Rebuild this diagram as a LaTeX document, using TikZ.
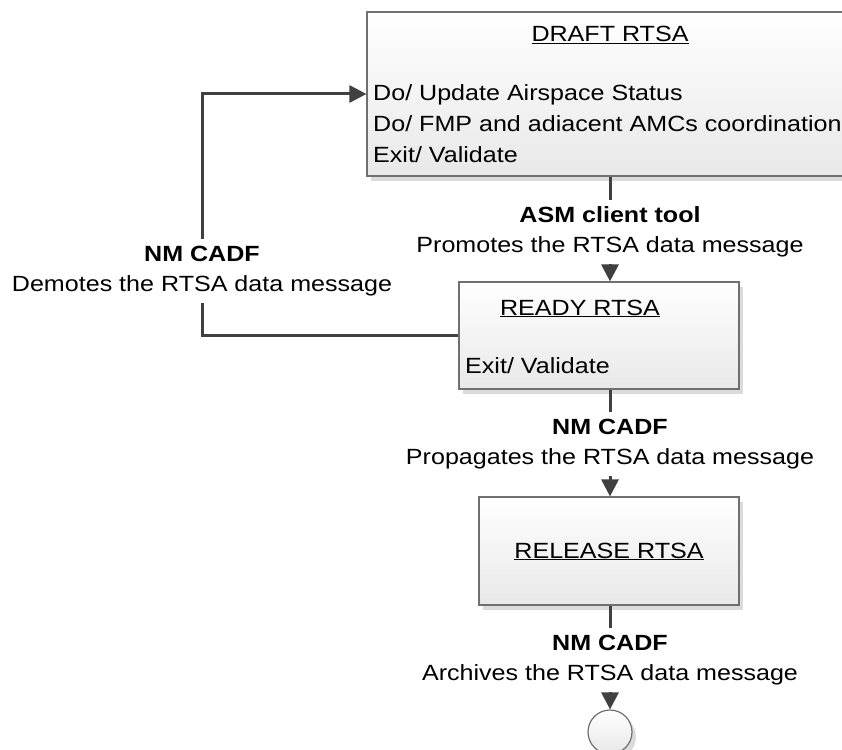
\documentclass[tikz,border=0pt]{standalone}
\usepackage{fontspec}
\setmainfont{Liberation Sans}[FakeStretch=1.14]
\usetikzlibrary{arrows.meta,shadows}
\definecolor{linegray}{RGB}{64,64,64}
\definecolor{boxgray}{RGB}{112,112,112}
\begin{document}
\begin{tikzpicture}[x=1pt,y=-1pt,
  >={Triangle[length=17pt,width=17pt]},
  statebox/.style={draw=boxgray,line width=1.2pt,top color=white,bottom color=black!9,
    drop shadow={shadow xshift=4pt,shadow yshift=-5pt,fill=black!20,opacity=0.7},
    inner sep=0pt},
  conn/.style={draw=linegray,line width=3pt},
  trans/.style={align=center,inner sep=7pt,font=\fontsize{22}{29.5}\selectfont},
  boxtext/.style={inner sep=0pt,font=\fontsize{22}{31}\selectfont}]
\clip (0,0) rectangle (842,749);
\fill[white] (0,0) rectangle (842,749);

% states
\node[statebox,minimum width=513pt,minimum height=164pt] (draft) at (623.5,94) {};
\node[statebox,minimum width=280pt,minimum height=107pt] (ready) at (599,335.5) {};
\node[statebox,minimum width=260pt,minimum height=108pt] (release) at (609,551) {};
\node[statebox,circle,minimum size=44pt] (final) at (610,732) {};

\node[boxtext,anchor=base] (drafttitle) at (610,42) {\underline{DRAFT RTSA}};
\node[boxtext,anchor=north west,align=left] (draftdo) at (373,84)
  {Do/ Update Airspace Status\\Do/ FMP and adiacent AMCs coordination\\Exit/ Validate};
\node[boxtext,anchor=base] (readytitle) at (580,315) {\underline{READY RTSA}};
\node[boxtext,anchor=base west] (readyexit) at (465,373) {Exit/ Validate};
\node[boxtext,anchor=base] (releasetitle) at (609,558) {\underline{RELEASE RTSA}};

% transition labels
\node[trans] (promote) at (610,232) {\textbf{ASM client tool}\\Promotes the RTSA data message};
\node[trans] (demote) at (202,271) {\textbf{NM CADF}\\Demotes the RTSA data message};
\node[trans] (propagate) at (610,444) {\textbf{NM CADF}\\Propagates the RTSA data message};
\node[trans] (archive) at (610,660) {\textbf{NM CADF}\\Archives the RTSA data message};

% transitions
\draw[conn] (draft.south -| promote) -- (promote);
\draw[conn,->] (promote) -- (promote |- ready.north);
\draw[conn] (ready.west) -| (demote);
\draw[conn,->] (demote) |- (draft.west);
\draw[conn] (ready.south -| propagate) -- (propagate);
\draw[conn,->] (propagate) -- (propagate |- release.north);
\draw[conn] (release.south -| archive) -- (archive);
\draw[conn,->] (archive) -- (final);

\end{tikzpicture}
\end{document}
